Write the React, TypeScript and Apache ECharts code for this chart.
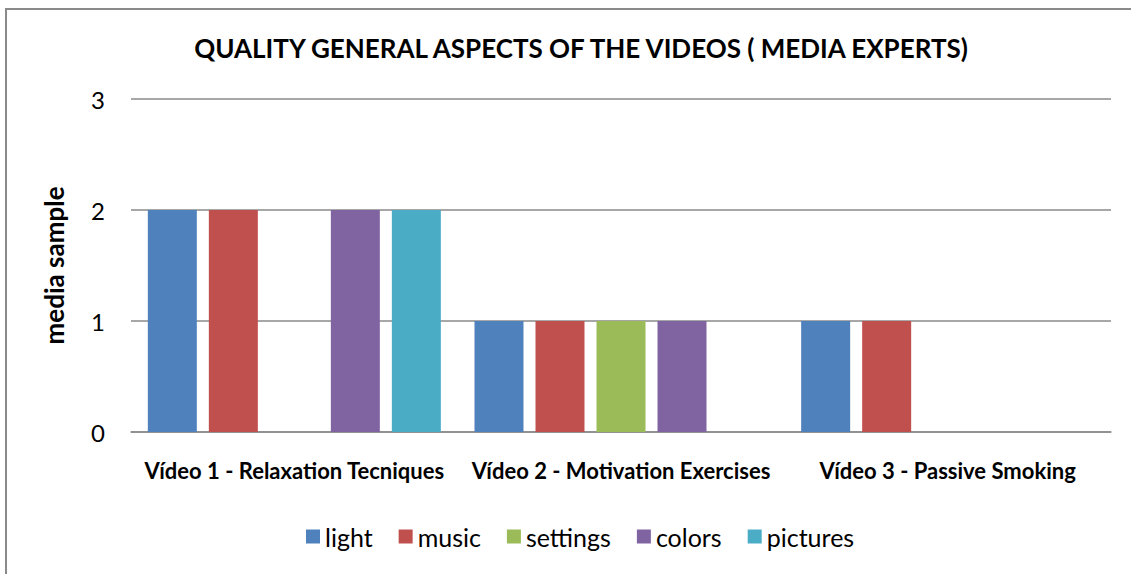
import React, { useEffect, useRef } from "react";
import * as echarts from "echarts";

const categories = [
  "Vídeo 1 - Relaxation Tecniques",
  "Vídeo 2 - Motivation Exercises",
  "Vídeo 3 - Passive Smoking",
];
const seriesNames = ["light", "music", "settings", "colors", "pictures"];
const light = [2, 1, 1];
const music = [2, 1, 1];
const settings = [0, 1, 0];
const colors = [2, 1, 0];
const pictures = [2, 0, 0];
const yTicks = [0, 1, 2, 3];
const palette = ["#4F81BD", "#C0504D", "#9BBB59", "#8064A2", "#4BACC6"];

const FONT = "Lato";

export default function App() {
  const ref = useRef<HTMLDivElement>(null);
  useEffect(() => {
    if (!ref.current) return;
    const chart = echarts.init(ref.current, undefined, { renderer: "svg" });
    const values = [light, music, settings, colors, pictures];
    chart.setOption({
      animation: false,
      backgroundColor: "#ffffff",
      title: {
        text: "QUALITY GENERAL ASPECTS OF THE VIDEOS ( MEDIA EXPERTS)",
        left: 576,
        textAlign: "center",
        top: 30,
        textStyle: { fontFamily: FONT, fontWeight: "bold", fontSize: 26, color: "#000" },
      },
      graphic: [
        {
          type: "rect",
          shape: { x: 6, y: 9, width: 1200, height: 700 },
          style: { fill: "none", stroke: "#8a8a8a", lineWidth: 2 },
          silent: true,
        },
      ],
      grid: { left: 131, right: 20, top: 99, bottom: 142 },
      legend: {
        top: 519,
        left: 301,
        icon: "rect",
        itemWidth: 14,
        itemHeight: 14,
        itemGap: 26,
        data: seriesNames,
        textStyle: { fontFamily: FONT, fontSize: 25, color: "#000" },
      },
      xAxis: {
        type: "category",
        data: categories,
        axisTick: { show: false },
        axisLine: { lineStyle: { color: "#8a8a8a", width: 1.5 } },
        axisLabel: {
          fontFamily: FONT,
          fontWeight: "bold",
          fontSize: 22,
          color: "#000",
          margin: 27,
          interval: 0,
        },
      },
      yAxis: {
        type: "value",
        min: yTicks[0],
        max: yTicks[yTicks.length - 1],
        interval: 1,
        name: "media sample",
        nameLocation: "middle",
        nameGap: 64,
        nameRotate: 90,
        nameTextStyle: { fontFamily: FONT, fontWeight: "bold", fontSize: 26, color: "#000" },
        axisLine: { show: false },
        axisTick: { show: false },
        axisLabel: { fontFamily: FONT, fontSize: 24, color: "#000", margin: 26 },
        splitLine: { lineStyle: { color: "#8a8a8a", width: 1.5 } },
      },
      series: seriesNames.map((n, i) => ({
        name: n,
        type: "bar",
        data: values[i],
        barWidth: 49,
        barGap: "24.5%",
        itemStyle: { color: palette[i] },
      })),
    });
    return () => chart.dispose();
  }, []);
  return (
    <div
      ref={ref}
      style={{ position: "fixed", left: 0, top: 0, width: 1131, height: 574 }}
    />
  );
}
